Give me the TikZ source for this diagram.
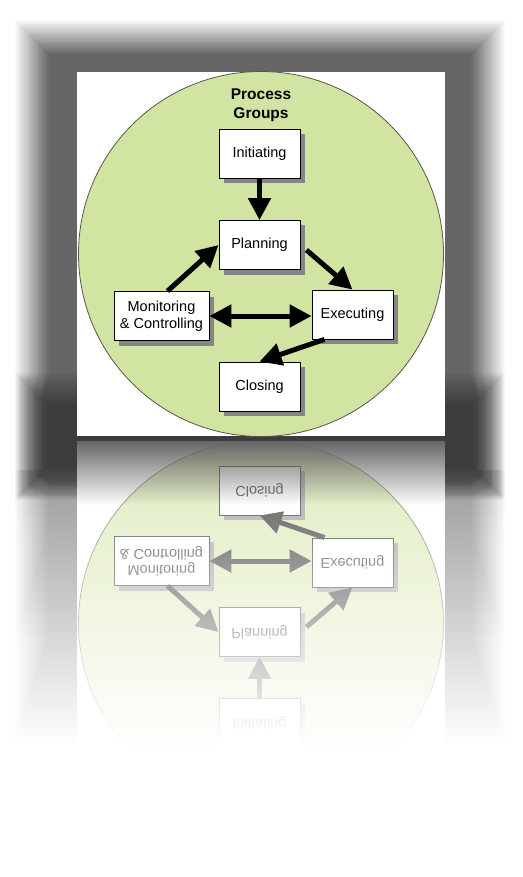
\documentclass[tikz,border=0pt]{standalone}
\usepackage{fontspec}
\setmainfont{Liberation Sans}
\usepackage{xcolor}
\usepackage{tikz}
\usetikzlibrary{arrows.meta,shadows,fadings}
\definecolor{shadowgray}{HTML}{666666}
\definecolor{shadowdark}{HTML}{3C3C3C}
\definecolor{reflgray}{HTML}{9A9A9A}
\definecolor{groupgreen}{HTML}{D2E4A2}
\definecolor{ringline}{HTML}{55584A}
\definecolor{boxshade}{HTML}{858585}
\tikzset{
  stage/.style={draw=black, line width=0.8pt, fill=white, minimum width=81pt,
    minimum height=49pt, inner sep=2pt, align=center,
    font=\fontsize{14.5}{16.5}\selectfont,
    drop shadow={shadow xshift=5pt, shadow yshift=-5pt, fill=boxshade, opacity=1}},
  grouptitle/.style={font=\bfseries\fontsize{15.5}{19}\selectfont, align=center},
  flow/.style={line width=5pt, -{Triangle[length=22pt,width=22pt]}},
  flowboth/.style={line width=5pt, {Triangle[length=22pt,width=22pt]}-{Triangle[length=22pt,width=22pt]}},
}
\tikzfading[name=fadereflect, top color=transparent!70, bottom color=transparent!0]
\tikzfading[name=fadedark, top color=transparent!0, bottom color=transparent!100]

% the panel with the process groups, drawn once and once mirrored
\newcommand{\processgroups}{%
  \fill[white] (77,72) rectangle (445,436);
  \draw[ringline, fill=groupgreen, line width=0.8pt] (261,254) circle (182.5pt);
  \node[grouptitle] (pgtitle) at (261,105.5) {Process\\Groups};
  \node[stage] (init) at (259.5,154) {Initiating};
  \node[stage] (plan) at (259.5,245) {Planning};
  \node[stage, minimum width=95pt] (monitor) at (161.5,316) {Monitoring\\\& Controlling};
  \node[stage] (exec) at (352.5,314.5) {Executing};
  \node[stage] (close) at (259.5,386.5) {Closing};
  \draw[flow] (init) -- (plan);
  \draw[flow] ([xshift=6pt]monitor.north) -- (plan.west);
  \draw[flow] ([xshift=6pt,yshift=-5pt]plan.east) -- (exec.north);
  \draw[flowboth] (monitor.east) -- (monitor.east -| exec.west);
  \draw[flow] ([xshift=-28pt]exec.south) -- (close.north);
}

\begin{document}
\begin{tikzpicture}[x=1pt, y=-1pt]
  \path[use as bounding box, fill=white] (0,0) rectangle (522,877);

  % shadow under the reflection
  \foreach \k in {1,...,40}{
    \pgfmathsetmacro{\inset}{(\k-1)*0.9}
    \pgfmathsetmacro{\op}{1/(41-\k)}
    \shade[top color=reflgray, bottom color=white, opacity=\op]
      (15+\inset,470) rectangle (505-\inset,745);
  }
  % drop shadow
  \foreach \k in {1,...,40}{
    \pgfmathsetmacro{\inset}{(\k-1)*0.9}
    \pgfmathsetmacro{\op}{1/(41-\k)}
    \fill[shadowgray, opacity=\op] (15+\inset,20+\inset) rectangle (505-\inset,500-\inset);
  }
  \foreach \k in {1,...,40}{
    \pgfmathsetmacro{\inset}{(\k-1)*0.9}
    \pgfmathsetmacro{\op}{1/(41-\k)}
    \fill[shadowdark, opacity=\op] (15+\inset,372+\inset) rectangle (505-\inset,500-\inset);
  }

  \processgroups

  % reflection
  \begin{scope}
    \clip (77,441) rectangle (445,745);
    \begin{scope}[shift={(0,877)}, yscale=-1, transform shape]
      \processgroups
    \end{scope}
  \end{scope}
  \fill[white, path fading=fadereflect] (77,441) rectangle (445,746);
  \fill[shadowgray, path fading=fadedark] (77,441) rectangle (445,505);
\end{tikzpicture}
\end{document}
